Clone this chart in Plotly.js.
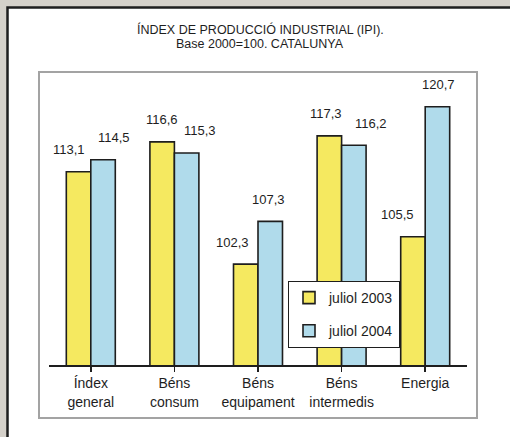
<!DOCTYPE html>
<html>
<head>
<meta charset="utf-8">
<script src="https://cdn.plot.ly/plotly-3.0.1.min.js"></script>
<style>html,body{margin:0;padding:0;background:#d5d1ca;}#chart{width:510px;height:437px;}</style>
</head>
<body>
<div id="chart"></div>
<script>
// ---- data ----
const categories = ["Índex<br>general", "Béns<br>consum", "Béns<br>equipament", "Béns<br>intermedis", "Energia"];
const seriesNames = ["juliol 2003", "juliol 2004"];
const values2003 = [113.1, 116.6, 102.3, 117.3, 105.5];
const values2004 = [114.5, 115.3, 107.3, 116.2, 120.7];
const titleLines = ["ÍNDEX DE PRODUCCIÓ INDUSTRIAL (IPI).", "Base 2000=100. CATALUNYA"];

// ---- styling ----
const colors = ["#f5e960", "#b0dbeb"];
const dark = "#1e1e1e";
const FONT = "Arial, Liberation Sans, sans-serif";
const fmt = v => v.toFixed(1).replace(".", ",");

// pixel -> paper helpers (plot area: x 49..467, y 72..365)
const L = 49, R = 467, T = 72, B = 365;
const px = p => (p - L) / (R - L);
const py = p => (B - p) / (B - T);

const idx = categories.map((_, i) => i);
const traces = [values2003, values2004].map((vals, s) => ({
  type: "bar",
  name: seriesNames[s],
  x: idx,
  y: vals,
  legendgroup: "g" + s,
  marker: { color: colors[s], line: { color: dark, width: 1.6 } },
  hoverinfo: "skip"
}));

const halfBar = 0.1465;
const nudge = [[-10, 0, -13, -3, -15], [11, 13, -2, 17, 1]];
const annotations = [];
[values2003, values2004].forEach((vals, s) => {
  vals.forEach((v, i) => {
    annotations.push({
      x: i + (s === 0 ? -halfBar : halfBar), y: v, xref: "x", yref: "y",
      text: fmt(v), showarrow: false, yanchor: "middle", xanchor: "center",
      yshift: 22, xshift: nudge[s][i],
      font: { family: FONT, size: 13, color: dark }
    });
  });
});
titleLines.forEach((t, k) => {
  annotations.push({
    x: px(260), y: py(k === 0 ? 29.3 : 43.7), xref: "paper", yref: "paper",
    text: t, showarrow: false, xanchor: "center", yanchor: "middle",
    font: { family: FONT, size: 12.5, color: dark }
  });
});

const layout = {
  width: 510, height: 437,
  margin: { l: L, r: 510 - R, t: T, b: 437 - B, pad: 0 },
  paper_bgcolor: "#d5d1ca",
  plot_bgcolor: "rgba(0,0,0,0)",
  barmode: "group",
  bargap: 0.414,
  bargroupgap: 0,
  showlegend: true,
  legend: {
    x: px(288), y: py(281), xanchor: "left", yanchor: "top",
    bgcolor: "#ffffff", bordercolor: dark, borderwidth: 1,
    font: { family: FONT, size: 14, color: dark },
    traceorder: "grouped", tracegroupgap: 12
  },
  xaxis: {
    tickmode: "array", tickvals: idx, ticktext: categories,
    range: [-0.5, 4.5], fixedrange: true,
    showline: true, linecolor: dark, linewidth: 1.5,
    ticks: "outside", tickson: "boundaries", ticklen: 5, tickcolor: dark, tickwidth: 1.5,
    showgrid: false, zeroline: false,
    tickfont: { family: FONT, size: 14, color: dark }
  },
  yaxis: { visible: false, range: [90.5, 124.77], fixedrange: true, showgrid: false, zeroline: false },
  shapes: [
    { type: "rect", xref: "paper", yref: "paper", layer: "below",
      x0: px(7.5), x1: px(530), y0: py(460), y1: py(7.5),
      fillcolor: "#ffffff", line: { color: dark, width: 2.5 } },
    { type: "rect", xref: "paper", yref: "paper", layer: "below",
      x0: px(39), x1: px(477), y0: py(418), y1: py(72),
      fillcolor: "rgba(0,0,0,0)", line: { color: "#a3a3a3", width: 2 } }
  ],
  annotations: annotations
};

Plotly.newPlot("chart", traces, layout, { displayModeBar: false, staticPlot: true });
</script>
</body>
</html>
